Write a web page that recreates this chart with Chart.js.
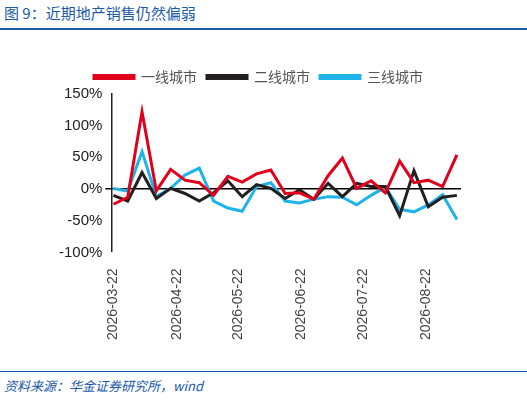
<!DOCTYPE html><html><head><meta charset="utf-8">
<script src="https://cdn.jsdelivr.net/npm/chart.js@4"></script>
<style>body{margin:0;width:527px;height:400px;position:relative;background:#fff;font-family:"Noto Sans CJK SC",sans-serif}
#t{position:absolute;left:4px;top:2px;font-size:15px;color:#1a5aa8}
#l1{position:absolute;left:0;top:28px;width:527px;height:2px;background:#1a5aa8}
#l2{position:absolute;left:0;top:371px;width:527px;height:1px;background:#1a5aa8}
#f{position:absolute;left:4px;top:376px;font-size:13px;font-style:italic;color:#1a5aa8}
#c{position:absolute;left:0;top:40px}</style></head><body>
<div id="t">图 9：近期地产销售仍然偏弱</div><div id="l1"></div>
<canvas id="c" width="527" height="320"></canvas>
<div id="l2"></div><div id="f">资料来源：华金证券研究所，wind</div>
<script>
const startDate="2026-03-22", weeks=25;
const tickLabels=["2026-03-22","2026-04-22","2026-05-22","2026-06-22","2026-07-22","2026-08-22"];
const tier1=[-24,-13,122,-3,31,14,10,-10,20,11,24,30,-7,-6,-16,21,49,1,13,-6,44,10,14,4,54];
const tier2=[-10,-19,26,-15,1,-7,-19,-6,13,-12,7,1,-15,-1,-16,9,-12,9,4,4,-42,29,-28,-13,-10];
const tier3=[1,-3,59,-12,1,22,33,-19,-30,-35,4,10,-19,-22,-16,-12,-13,-25,-10,3,-32,-36,-25,-9,-48];
const day=s=>Math.round((Date.parse(s)-Date.parse(startDate))/864e5);
const xs=Array.from({length:weeks},(_,i)=>i*7);
const tickDays=tickLabels.map(day);
const mk=(label,arr,c)=>({label,data:arr.map((v,i)=>({x:xs[i],y:v})),borderColor:c,backgroundColor:c,borderWidth:3,pointRadius:0,tension:0});
new Chart(document.getElementById('c'),{type:'line',data:{datasets:[mk('一线城市',tier1,'#e0001b'),mk('二线城市',tier2,'#231f20'),mk('三线城市',tier3,'#1eb4ea')]},
options:{responsive:false,animation:false,layout:{padding:{left:56,right:66,top:20,bottom:12}},
plugins:{legend:{labels:{boxWidth:40,boxHeight:3,font:{size:14,family:"Noto Sans CJK SC"},color:'#555',padding:10}},tooltip:{enabled:false}},
scales:{x:{type:'linear',min:-1,max:170,border:{display:false},grid:{display:false},
afterBuildTicks:a=>{a.ticks=tickDays.map(v=>({value:v}));},
ticks:{autoSkip:false,maxRotation:90,minRotation:90,padding:8,font:{size:14,family:"Arial"},color:'#444',callback:v=>tickLabels[tickDays.indexOf(v)]}},
y:{min:-100,max:150,border:{color:'#222',width:1.5},ticks:{stepSize:50,font:{size:15,family:"Arial"},color:'#222',callback:v=>v+'%'},
grid:{drawOnChartArea:true,tickLength:6,color:c=>c.tick&&c.tick.value===0?'#000':'rgba(0,0,0,0)',lineWidth:c=>c.tick&&c.tick.value===0?1.5:0}}}}});
</script></body></html>
